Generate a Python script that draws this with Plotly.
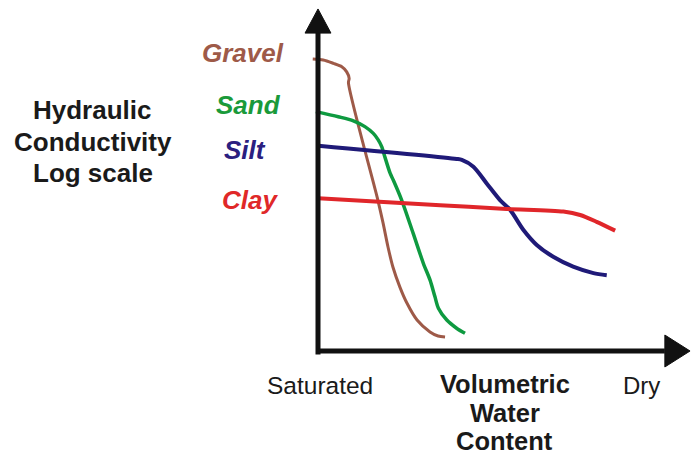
import plotly.graph_objects as go

# Schematic data: x = relative dryness (0 = saturated, 100 = dry),
# y = relative log hydraulic conductivity (0..100)
gravel_x = [-1.5, 1.5, 4.4, 6.8, 8.2, 8.9, 8.7, 17.1, 18.6, 20.0, 21.4, 23.4, 25.4, 28.3, 32.0, 34.3, 36.3]
gravel_y = [85.9, 85.6, 84.6, 83.6, 82.1, 80.2, 78.9, 44.4, 37.6, 30.6, 24.7, 18.8, 14.1, 9.1, 5.6, 4.4, 4.1]

sand_x = [-0.6, 5.8, 10.1, 13.4, 15.8, 17.2, 18.2, 19.1, 20.6, 21.5, 23.9, 27.2, 30.1, 32.0, 33.4, 34.4, 36.8, 39.6, 42.0]
sand_y = [70.4, 68.9, 67.7, 66.0, 64.0, 62.1, 60.1, 57.1, 52.3, 50.3, 44.4, 34.6, 25.8, 20.9, 16.0, 12.6, 9.1, 6.7, 5.2]

silt_x = [0.1, 39.6, 41.1, 44.4, 48.2, 52.0, 54.9, 58.7, 62.5, 67.2, 72.9, 78.7, 82.5]
silt_y = [60.4, 56.5, 56.2, 54.2, 49.3, 44.4, 41.5, 35.6, 31.2, 27.7, 24.8, 22.9, 22.3]

clay_x = [0.1, 34.9, 53.9, 70.1, 74.9, 79.6, 84.9]
clay_y = [44.9, 42.9, 41.8, 41.0, 40.0, 38.0, 35.4]

series_names = ["Gravel", "Sand", "Silt", "Clay"]
series_colors = ["#9E5A48", "#0E9A40", "#1F1A78", "#E0262A"]
label_text_colors = ["#9E5A48", "#1A9A3A", "#2B2080", "#E02828"]
label_x = [-21.4, -20.0, -20.9, -19.4]
label_y = [87.6, 72.4, 59.1, 44.4]

x_label_left = "Saturated"
x_label_right = "Dry"
x_title_lines = ["Volumetric", "Water", "Content"]
y_title_lines = ["Hydraulic", "Conductivity", "Log scale"]

# axis extents (data units)
X_RANGE = [-90.857, 106.571]
Y_RANGE = [-30.588, 103.235]
X_AXIS_END = 99.1
X_ARROW_TIP = 106.3
Y_AXIS_END = 93.5
Y_ARROW_TIP = 100.6
ARROW_HALF_X = 3.7
ARROW_HALF_Y = 4.7

FONT = "Liberation Sans, Arial, sans-serif"

fig = go.Figure()

xs = [gravel_x, sand_x, silt_x, clay_x]
ys = [gravel_y, sand_y, silt_y, clay_y]
widths = [3, 3.5, 4, 4]
for name, x, y, c, w in zip(series_names, xs, ys, series_colors, widths):
    fig.add_trace(go.Scatter(x=x, y=y, mode="lines", name=name,
                             line=dict(color=c, width=w, shape="spline", smoothing=0.8),
                             showlegend=False, hoverinfo="skip"))

axis_color = "#111111"
shapes = [
    dict(type="line", xref="x", yref="y", x0=0, y0=-1.0, x1=0, y1=Y_AXIS_END,
         line=dict(color=axis_color, width=5)),
    dict(type="line", xref="x", yref="y", x0=0, y0=0, x1=X_AXIS_END, y1=0,
         line=dict(color=axis_color, width=5)),
    dict(type="path", xref="x", yref="y",
         path=f"M {-ARROW_HALF_X} {Y_AXIS_END} L 0 {Y_ARROW_TIP} L {ARROW_HALF_X} {Y_AXIS_END} Z",
         fillcolor=axis_color, line=dict(color=axis_color, width=1)),
    dict(type="path", xref="x", yref="y",
         path=f"M {X_AXIS_END} {-ARROW_HALF_Y} L {X_ARROW_TIP} 0 L {X_AXIS_END} {ARROW_HALF_Y} Z",
         fillcolor=axis_color, line=dict(color=axis_color, width=1)),
]

annotations = []
for name, c, lx, ly in zip(series_names, label_text_colors, label_x, label_y):
    annotations.append(dict(x=lx, y=ly, xref="x", yref="y", text=f"<b><i>{name}</i></b>",
                            showarrow=False, xanchor="center", yanchor="middle",
                            font=dict(family=FONT, size=26, color=c)))

# y-axis title, one annotation per line (line spacing ~9.2 data units = ~31px)
for i, line in enumerate(y_title_lines):
    annotations.append(dict(x=-64.3, y=70.8 - 9.2 * i, xref="x", yref="y", text=f"<b>{line}</b>",
                            showarrow=False, xanchor="center", yanchor="middle",
                            font=dict(family=FONT, size=26, color="#1a1a1a")))

for i, line in enumerate(x_title_lines):
    annotations.append(dict(x=53.4, y=-9.8 - 8.3 * i, xref="x", yref="y", text=f"<b>{line}</b>",
                            showarrow=False, xanchor="center", yanchor="middle",
                            font=dict(family=FONT, size=25.5, color="#1a1a1a")))

annotations += [
    dict(x=0.6, y=-10.0, xref="x", yref="y", text=x_label_left, showarrow=False,
         xanchor="center", yanchor="middle", font=dict(family=FONT, size=24.5, color="#1a1a1a")),
    dict(x=92.4, y=-10.0, xref="x", yref="y", text=x_label_right, showarrow=False,
         xanchor="center", yanchor="middle", font=dict(family=FONT, size=24, color="#1a1a1a")),
]

fig.update_layout(
    width=691, height=455,
    margin=dict(l=0, r=0, t=0, b=0),
    paper_bgcolor="white", plot_bgcolor="white",
    xaxis=dict(range=X_RANGE, visible=False, fixedrange=True),
    yaxis=dict(range=Y_RANGE, visible=False, fixedrange=True),
    shapes=shapes, annotations=annotations,
)

fig.write_html("out.html", config={"displayModeBar": False},
               post_script="document.body.style.margin='0';document.body.style.overflow='hidden';")
